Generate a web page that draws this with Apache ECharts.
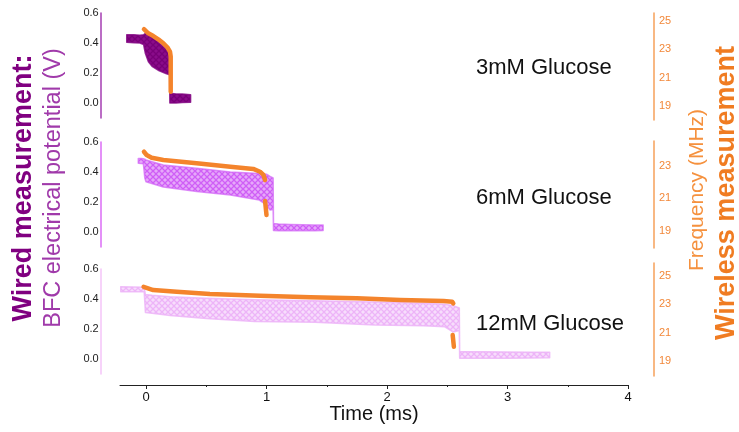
<!DOCTYPE html>
<html><head><meta charset="utf-8">
<script src="https://cdn.jsdelivr.net/npm/echarts@6/dist/echarts.min.js"></script>
<style>html,body{margin:0;padding:0;background:#fff}#c{width:739px;height:432px}</style>
</head><body><div id="c"></div>
<script>
// ---- Data (time in ms, potential in V, frequency in MHz) ----
// Panel 1: 3mM Glucose
const t1  = [-0.16, -0.10, -0.05, -0.02, -0.005, 0.02, 0.05, 0.08, 0.11, 0.14, 0.17, 0.19, 0.196, 0.198, 0.25, 0.30, 0.37];
const up1 = [0.455, 0.455, 0.452, 0.455, 0.465, 0.455, 0.44, 0.42, 0.40, 0.38, 0.355, 0.34, 0.33, 0.065, 0.06, 0.06, 0.055];
const lo1 = [0.405, 0.402, 0.40, 0.39, 0.33, 0.275, 0.245, 0.23, 0.215, 0.205, 0.195, 0.19, 0.19, 0.0, 0.0, 0.003, 0.005];
const tf1 = [-0.017, 0.019, 0.061, 0.102, 0.144, 0.177, 0.199, 0.205, 0.205];
const f1  = [24.40, 24.11, 23.92, 23.69, 23.41, 23.13, 22.82, 22.47, 20.0];
// Panel 2: 6mM Glucose
const t2  = [-0.064, -0.04, -0.022, -0.01, 0.0, 0.144, 0.42, 0.70, 0.94, 1.0, 1.03, 1.055, 1.058, 1.1, 1.2, 1.3, 1.4, 1.47];
const up2 = [0.49, 0.49, 0.488, 0.485, 0.48, 0.447, 0.425, 0.40, 0.39, 0.385, 0.37, 0.36, 0.056, 0.053, 0.05, 0.048, 0.047, 0.046];
const lo2 = [0.458, 0.457, 0.455, 0.36, 0.335, 0.30, 0.27, 0.247, 0.213, 0.18, 0.147, 0.15, 0.01, 0.008, 0.008, 0.008, 0.008, 0.01];
const tf2 = [-0.017, 0.005, 0.047, 0.144, 0.42, 0.70, 0.89, 0.946, 0.975, 0.988, 0.988, 0.988, 1.0];
const f2  = [23.86, 23.66, 23.49, 23.35, 23.15, 22.94, 22.80, 22.63, 22.43, 22.12, null, 20.83, 19.97];
// Panel 3: 12mM Glucose
const t3  = [-0.21, -0.1, -0.015, -0.005, 0.05, 0.2, 0.5, 0.9, 1.4, 1.9, 2.3, 2.48, 2.55, 2.6, 2.603, 2.8, 3.0, 3.2, 3.35];
const up3 = [0.482, 0.48, 0.478, 0.43, 0.425, 0.415, 0.405, 0.395, 0.388, 0.38, 0.372, 0.365, 0.355, 0.34, 0.05, 0.048, 0.046, 0.045, 0.045];
const lo3 = [0.449, 0.448, 0.448, 0.31, 0.305, 0.29, 0.27, 0.25, 0.245, 0.227, 0.222, 0.215, 0.18, 0.19, 0.005, 0.005, 0.005, 0.006, 0.008];
const tf3 = [-0.02, 0.06, 0.255, 0.53, 0.946, 1.365, 1.75, 2.11, 2.47, 2.54, 2.55, 2.55, 2.545, 2.555];
const f3  = [24.24, 24.01, 23.89, 23.73, 23.61, 23.50, 23.43, 23.31, 23.24, 23.19, 23.07, null, 20.84, 20.01];

const panelLabels = ['3mM Glucose', '6mM Glucose', '12mM Glucose'];
const xTickLabels = [0, 1, 2, 3, 4];
const xMinorTicks = [0.5, 1.5, 2.5, 3.5];
const leftTickLabels = [0, 0.2, 0.4, 0.6];
const rightTickLabels = [[19, 21, 23, 25], [19, 21, 23], [19, 21, 23, 25]];

// ---- Layout / style ----
const chart = echarts.init(document.getElementById('c'), null, {renderer: 'canvas'});
const FONT = 'Liberation Sans, Arial, sans-serif';
const X_MIN = -0.2158, X_MAX = 4;
const GL = 120, GR = 111;
const leftGrids = [{top:13,height:105},{top:142,height:105},{top:269,height:105}];
const rightGrids = [{top:13,height:107},{top:141,height:107},{top:263,height:113}];
const rightRanges = [[18.015,25.54],[17.935,24.52],[17.941,25.918]];
const leftAxisColors = ['#A43CB2','#DB6CF6','#F4C4F9'];
// [background tint, cross-hatch colour, edge colour] for the scatter clouds
const cloudStyles = [
  ['#8A0C8A', '#780078', 'rgba(128,0,128,0.8)'],
  ['#E6A8FA', '#CF5EF6', 'rgba(210,100,246,0.7)'],
  ['#F7DDFC', '#EDB4F8', 'rgba(236,178,248,0.8)']
];
const ORANGE = '#F4842C';

function hatch(bg, fg) {
  const c = document.createElement('canvas');
  c.width = 6; c.height = 6;
  const g = c.getContext('2d');
  g.fillStyle = bg; g.fillRect(0, 0, 6, 6);
  g.strokeStyle = fg; g.lineWidth = 1.3;
  g.beginPath();
  g.moveTo(-1, -1); g.lineTo(7, 7);
  g.moveTo(7, -1); g.lineTo(-1, 7);
  g.stroke();
  return {image: c, repeat: 'repeat'};
}

const purple = [[t1,up1,lo1],[t2,up2,lo2],[t3,up3,lo3]];
const orange = [[tf1,f1],[tf2,f2],[tf3,f3]];

const grid = [];
const xAxis = [];
const yAxis = [];
const series = [];

for (let i = 0; i < 3; i++) {
  grid.push({left: GL, right: GR, top: leftGrids[i].top, height: leftGrids[i].height});
}
for (let i = 0; i < 3; i++) {
  grid.push({left: GL, right: GR, top: rightGrids[i].top, height: rightGrids[i].height});
}
for (let g = 0; g < 6; g++) {
  const isBottom = g === 2;
  xAxis.push({
    type: 'value', gridIndex: g, min: X_MIN, max: X_MAX, show: isBottom,
    position: 'bottom', offset: 11,
    axisLine: {show: true, onZero: false, lineStyle: {color: '#222', width: 1}},
    axisTick: {show: true, inside: false, length: 4, customValues: xTickLabels, lineStyle: {color: '#222'}},
    axisLabel: {customValues: xTickLabels, color: '#111', fontSize: 13, fontFamily: FONT, margin: 6,
      formatter: v => String(v)},
    splitLine: {show: false},
    name: isBottom ? 'Time (ms)' : '', nameLocation: 'middle', nameGap: 19,
    nameTextStyle: {fontSize: 20, color: '#111', fontFamily: FONT}
  });
}
// minor ticks on the time axis
xAxis.push({
  type: 'value', gridIndex: 2, min: X_MIN, max: X_MAX, position: 'bottom', offset: 11,
  axisLine: {show: false, onZero: false},
  axisTick: {show: true, length: 2, customValues: xMinorTicks, lineStyle: {color: '#222'}},
  axisLabel: {show: false}, splitLine: {show: false}
});

for (let i = 0; i < 3; i++) {
  yAxis.push({
    type: 'value', gridIndex: i, position: 'left', offset: 19.3, min: -0.1, max: 0.6,
    axisLine: {show: true, onZero: false, lineStyle: {color: leftAxisColors[i], width: 1.5}},
    axisTick: {show: false},
    axisLabel: {customValues: leftTickLabels, formatter: v => v.toFixed(1), color: '#222',
      fontSize: 11, fontFamily: FONT, margin: 2},
    splitLine: {show: false}
  });
}
for (let i = 0; i < 3; i++) {
  yAxis.push({
    type: 'value', gridIndex: 3 + i, position: 'right', offset: 26,
    min: rightRanges[i][0], max: rightRanges[i][1],
    axisLine: {show: true, onZero: false, lineStyle: {color: '#F6A05A', width: 1.5}},
    axisTick: {show: false},
    axisLabel: {customValues: rightTickLabels[i], formatter: v => String(v), color: '#F2883A',
      fontSize: 11, fontFamily: FONT, margin: 5},
    splitLine: {show: false}
  });
}

for (let i = 0; i < 3; i++) {
  const [t, up, lo] = purple[i];
  const st = cloudStyles[i];
  const pattern = hatch(st[0], st[1]);
  // scatter-cloud envelope drawn as a band polygon through the axis scales
  series.push({
    type: 'custom', xAxisIndex: i, yAxisIndex: i, silent: true, clip: true, z: 2,
    data: [[t[0], up[0]]],
    renderItem: function (params, api) {
      const pts = [];
      for (let k = 0; k < t.length; k++) pts.push(api.coord([t[k], up[k]]));
      for (let k = t.length - 1; k >= 0; k--) pts.push(api.coord([t[k], lo[k]]));
      return {type: 'polygon', shape: {points: pts},
        style: {fill: pattern, stroke: st[2], lineWidth: 1.5, lineJoin: 'round'}};
    }
  });
  const [tf, f] = orange[i];
  series.push({
    type: 'line', xAxisIndex: 3 + i, yAxisIndex: 3 + i, silent: true, symbol: 'none',
    lineStyle: {color: ORANGE, width: 4.5, cap: 'round', join: 'round'},
    data: tf.map((x, k) => [x, f[k] === null ? NaN : f[k]]), z: 5
  });
}

const graphic = [
  {type: 'text', x: 24, y: 188, rotation: Math.PI / 2,
   style: {text: 'Wired measurement:', font: 'bold 27px ' + FONT, fill: '#800080', align: 'center', verticalAlign: 'middle'}},
  {type: 'text', x: 54, y: 188, rotation: Math.PI / 2,
   style: {text: 'BFC electrical potential (V)', font: '23.5px ' + FONT, fill: '#A03AAA', align: 'center', verticalAlign: 'middle'}},
  {type: 'text', x: 697, y: 190, rotation: Math.PI / 2,
   style: {text: 'Frequency (MHz)', font: '21px ' + FONT, fill: '#F5913E', align: 'center', verticalAlign: 'middle'}},
  {type: 'text', x: 727, y: 193, rotation: Math.PI / 2,
   style: {text: 'Wireless measurement', font: 'bold 27px ' + FONT, fill: '#F07C22', align: 'center', verticalAlign: 'middle'}}
];
const labelY = [68, 198, 324];
for (let i = 0; i < 3; i++) {
  graphic.push({type: 'text', x: 476, y: labelY[i],
    style: {text: panelLabels[i], font: '22px ' + FONT, fill: '#111', align: 'left', verticalAlign: 'middle'}});
}

chart.setOption({
  animation: false,
  backgroundColor: '#ffffff',
  grid, xAxis, yAxis, series, graphic
});
</script>
</body></html>
